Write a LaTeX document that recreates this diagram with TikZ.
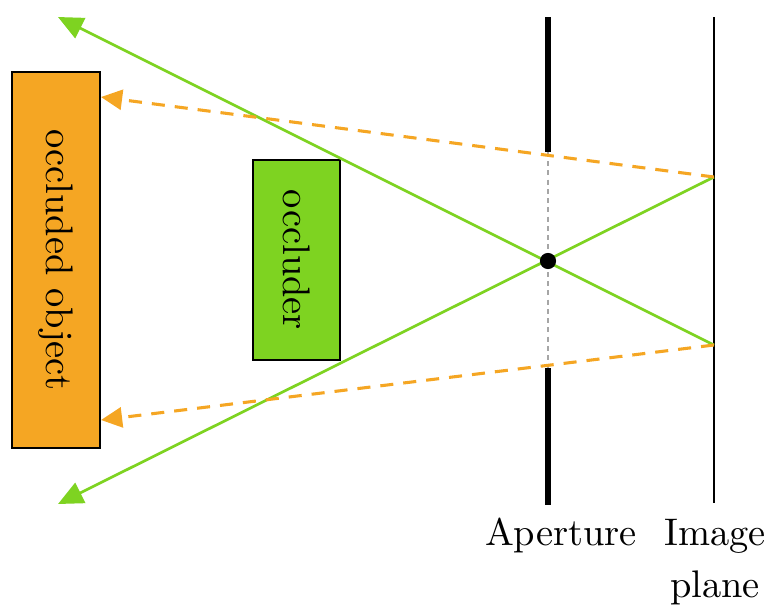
\documentclass[tikz,border=0pt]{standalone}
\usetikzlibrary{arrows.meta}
\definecolor{rayGreen}{RGB}{126,211,33}
\definecolor{rayOrange}{RGB}{245,166,35}
\begin{document}
\begin{tikzpicture}[x=0.26pt,y=-0.26pt,
  box/.style={draw=black,line width=0.7pt,inner sep=0pt},
  greenray/.style={rayGreen,line width=0.7pt,-{Triangle[length=6.5pt,width=5.8pt]}},
  orangeray/.style={rayOrange,line width=0.8pt,dash pattern=on 3.4pt off 2.6pt,-{Triangle[length=5.5pt,width=5.2pt]}},
  thickwall/.style={black,line width=1.5pt},
  thinwall/.style={black,line width=0.55pt},
  gap/.style={gray!70,line width=0.5pt,dash pattern=on 1.3pt off 1.1pt},
  pindot/.style={circle,fill=black,inner sep=0pt,minimum size=4.2pt},
  lbl/.style={font=\fontsize{10}{13.5}\selectfont}
]
\useasboundingbox (0,0) rectangle (769,607);
% boxes
\node[box,fill=rayOrange,minimum width=88*0.26pt,minimum height=376*0.26pt] (occ) at (56,260) {};
\node[lbl,rotate=-90] (occtxt) at (56,260) {occluded object};
\node[box,fill=rayGreen,minimum width=87*0.26pt,minimum height=200*0.26pt] (occl) at (296.5,260) {};
\node[lbl,rotate=-90] (occltxt) at (296.5,260) {occluder};
% aperture and image plane
\coordinate (apTop) at (548,17);
\coordinate (apGapT) at (548,152);
\coordinate (apGapB) at (548,368);
\coordinate (apBot) at (548,505);
\coordinate (ipTop) at (714,17);
\coordinate (ipBot) at (714,503);
\draw[thickwall] (apTop) -- (apGapT);
\draw[thickwall] (apGapB) -- (apBot);
\draw[gap] (apGapT) -- (apGapB);
\draw[thinwall] (ipTop) -- (ipBot);
% image points
\coordinate (imgU) at (714,177);
\coordinate (imgL) at (714,345);
\coordinate (gTipU) at (58,17);
\coordinate (gTipL) at (58,504);
\coordinate (oTipU) at (101,97);
\coordinate (oTipL) at (101,420);
\draw[greenray] (imgL) -- (gTipU);
\draw[greenray] (imgU) -- (gTipL);
\draw[orangeray] (imgU) -- (oTipU);
\draw[orangeray] (imgL) -- (oTipL);
\node[pindot] (pin) at (548,261) {};
% labels
\node[lbl,anchor=base] (aplbl) at (561,545) {Aperture};
\node[lbl,anchor=base,align=center] (iplbl) at (715,597) {Image\\plane};
\end{tikzpicture}
\end{document}
